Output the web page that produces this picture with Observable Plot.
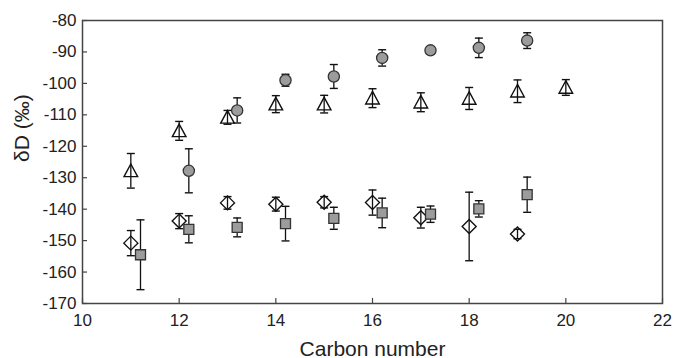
<!DOCTYPE html>
<html><head><meta charset="utf-8">
<script src="https://cdn.jsdelivr.net/npm/d3@7"></script>
<script src="https://cdn.jsdelivr.net/npm/@observablehq/plot@0.6"></script>
<style>body{margin:0;background:#fff;} #chart svg{display:block;}</style>
</head><body><div id="chart"></div>
<script>
// Triangles (open)
const triX = [11, 12, 13, 14, 15, 16, 17, 18, 19, 20];
const triY = [-127.8, -115.1, -110.8, -106.6, -106.6, -104.7, -106.0, -104.8, -102.5, -101.3];
const triErr = [5.5, 3.0, 2.2, 2.7, 2.8, 3.0, 3.0, 3.5, 3.6, 2.5];
// Circles (grey filled)
const cirX = [12.2, 13.2, 14.2, 15.2, 16.2, 17.2, 18.2, 19.2];
const cirY = [-127.8, -108.6, -99.0, -97.8, -91.9, -89.5, -88.7, -86.4];
const cirErr = [7.0, 4.0, 1.9, 3.8, 2.6, 1.0, 3.1, 2.5];
// Diamonds (open)
const diaX = [11, 12, 13, 14, 15, 16, 17, 18, 19];
const diaY = [-150.8, -143.8, -138.0, -138.4, -137.8, -137.9, -142.7, -145.5, -147.9];
const diaErr = [4.0, 2.4, 2.0, 2.2, 1.8, 4.0, 3.3, 10.9, 1.5];
// Squares (grey filled)
const sqX = [11.2, 12.2, 13.2, 14.2, 15.2, 16.2, 17.2, 18.2, 19.2];
const sqY = [-154.5, -146.4, -145.8, -144.6, -142.9, -141.2, -141.6, -139.9, -135.4];
const sqErr = [11.1, 4.3, 3.0, 5.5, 3.5, 4.7, 2.6, 2.6, 5.6];

const xTicks = [10, 12, 14, 16, 18, 20, 22];
const yTicks = [-80, -90, -100, -110, -120, -130, -140, -150, -160, -170];
const xLabel = "Carbon number";
const yLabel = "δD (‰)";

function rows(xs, ys, es) {
  return xs.map((x, i) => ({x, y: ys[i], lo: ys[i] - es[i], hi: ys[i] + es[i]}));
}
const tri = rows(triX, triY, triErr);
const cir = rows(cirX, cirY, cirErr);
const dia = rows(diaX, diaY, diaErr);
const sq = rows(sqX, sqY, sqErr);

const capSym = {draw(ctx, size) { const r = Math.sqrt(size / Math.PI); ctx.moveTo(-r, 0); ctx.lineTo(r, 0); }};
const triSym = {draw(ctx, size) { const r = Math.sqrt(size / Math.PI); ctx.moveTo(0, -r); ctx.lineTo(r, 0.85 * r); ctx.lineTo(-r, 0.85 * r); ctx.closePath(); }};
const diaSym = {draw(ctx, size) { const r = Math.sqrt(size / Math.PI); ctx.moveTo(0, -r); ctx.lineTo(r, 0); ctx.lineTo(0, r); ctx.lineTo(-r, 0); ctx.closePath(); }};
const sqSym = {draw(ctx, size) { const r = Math.sqrt(size / Math.PI); ctx.rect(-r, -r, 2 * r, 2 * r); }};

const ink = "#111";
const grey = "#9c9c9c";
function errMarks(data) {
  return [
    Plot.ruleX(data, {x: "x", y1: "lo", y2: "hi", stroke: ink, strokeWidth: 1.3}),
    Plot.dot(data, {x: "x", y: "lo", symbol: capSym, r: 4, stroke: ink, strokeWidth: 1.4}),
    Plot.dot(data, {x: "x", y: "hi", symbol: capSym, r: 4, stroke: ink, strokeWidth: 1.4})
  ];
}
const fmt = d => String(d);

const chart = Plot.plot({
  width: 673, height: 358,
  marginLeft: 82, marginRight: 11, marginTop: 20, marginBottom: 55,
  style: {fontFamily: "'Liberation Sans', Arial, sans-serif", fontSize: "17px", color: "#222", background: "#fff"},
  x: {domain: [10, 22]},
  y: {domain: [-170, -80]},
  marks: [
    Plot.frame({stroke: "#444", strokeWidth: 1.5}),
    Plot.axisX({ticks: xTicks, tickSize: -5, tickPadding: 15, tickFormat: fmt, label: null, stroke: "#444", strokeWidth: 1.2, fontSize: 17}),
    Plot.axisY({ticks: yTicks, tickSize: -5, tickPadding: 11, tickFormat: fmt, label: null, stroke: "#444", strokeWidth: 1.2, fontSize: 17}),
    Plot.text([xLabel], {frameAnchor: "bottom", dy: 52, lineAnchor: "bottom", fontSize: 21, fill: "#222"}),
    Plot.text([yLabel], {frameAnchor: "left", dx: -60, rotate: -90, fontSize: 21, fill: "#222"}),
    Plot.dot(tri, {x: "x", y: "y", symbol: triSym, r: 6.8, fill: "white", stroke: ink, strokeWidth: 1.4}),
    Plot.dot(dia, {x: "x", y: "y", symbol: diaSym, r: 7, fill: "white", stroke: ink, strokeWidth: 1.4}),
    ...errMarks(tri),
    ...errMarks(dia),
    ...errMarks(cir),
    ...errMarks(sq),
    Plot.dot(cir, {x: "x", y: "y", symbol: "circle", r: 5.6, fill: grey, stroke: "#333", strokeWidth: 1.3}),
    Plot.dot(sq, {x: "x", y: "y", symbol: sqSym, r: 5, fill: grey, stroke: "#333", strokeWidth: 1.3})
  ]
});
document.getElementById("chart").appendChild(chart);
</script>
</body></html>
